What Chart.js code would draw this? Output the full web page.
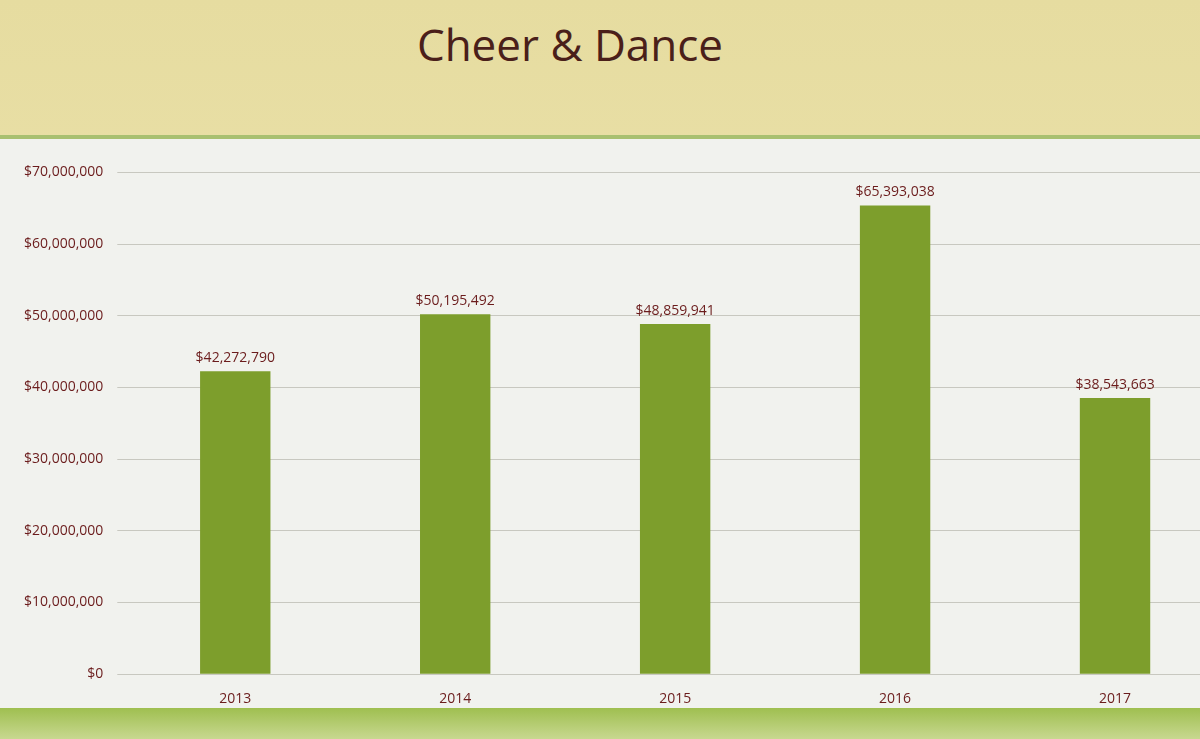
<!DOCTYPE html>
<html>
<head>
<meta charset="utf-8">
<script src="https://cdn.jsdelivr.net/npm/chart.js@4"></script>
<style>
  html, body { margin: 0; padding: 0; width: 1200px; height: 739px; overflow: hidden; }
  body { background: linear-gradient(#e6dca0, #ece3ad 60%, #f0ebc8); font-family: "Open Sans", sans-serif; position: relative; }
  #title { position: absolute; top: 14px; left: 0; width: 1140px; text-align: center; font-size: 44px; color: #4a1f1a; font-family: "Open Sans", sans-serif; }
  #panel { position: absolute; top: 135px; left: 0; width: 1200px; height: 575px; background: #f1f2ee; border-top: 4px solid #a8c070; }
  #foot { position: absolute; top: 708px; left: 0; width: 1200px; height: 31px; background: linear-gradient(#9fbf50, #c8d890); }
  #wrap { position: absolute; top: 150px; left: 0; width: 1225px; height: 565px; }
</style>
</head>
<body>
<div id="title">Cheer &amp; Dance</div>
<div id="panel"></div>
<div id="foot"></div>
<div id="wrap"><canvas id="chart"></canvas></div>
<script>
// Cheer & Dance yearly totals
const years = ['2013', '2014', '2015', '2016', '2017'];
const totals = [42272790, 50195492, 48859941, 65393038, 38543663];
const yTicks = [0, 10000000, 20000000, 30000000, 40000000, 50000000, 60000000, 70000000];

const money = v => '$' + v.toLocaleString('en-US');

// draws the value above each bar
const valueLabels = {
    id: 'valueLabels',
    afterDatasetsDraw(chart) {
        const ctx = chart.ctx;
        const meta = chart.getDatasetMeta(0);
        ctx.save();
        ctx.fillStyle = '#6b1c1c';
        ctx.font = '14px "Open Sans", sans-serif';
        ctx.textAlign = 'center';
        ctx.textBaseline = 'bottom';
        meta.data.forEach((bar, i) => {
            ctx.fillText(money(totals[i]), bar.x, bar.y - 6);
        });
        ctx.restore();
    },
};

const ctx = document.getElementById('chart').getContext('2d');
const chart = new Chart(ctx, {
    type: 'bar',
    data: {
        labels: years,
        datasets: [{
            data: totals,
            backgroundColor: '#7d9e2c',
            barPercentage: 0.32,
            categoryPercentage: 1,
        }],
    },
    options: {
        responsive: true,
        maintainAspectRatio: false,
        animation: false,
        layout: { padding: { top: 8, right: 0, bottom: 0, left: 10 } },
        plugins: { legend: { display: false }, tooltip: { enabled: false } },
        scales: {
            x: {
                grid: { display: false },
                border: { display: false },
                ticks: { color: '#6b1c1c', font: { size: 14, family: 'Open Sans' }, padding: 8 },
            },
            y: {
                min: 0,
                max: 70000000,
                afterBuildTicks: axis => { axis.ticks = yTicks.map(v => ({ value: v })); },
                grid: { color: '#c8c8c0' },
                border: { display: false },
                ticks: { color: '#6b1c1c', font: { size: 14, family: 'Open Sans' }, padding: 14, callback: v => money(v) },
            },
        },
    },
    plugins: [valueLabels],
});
</script>
</body>
</html>
